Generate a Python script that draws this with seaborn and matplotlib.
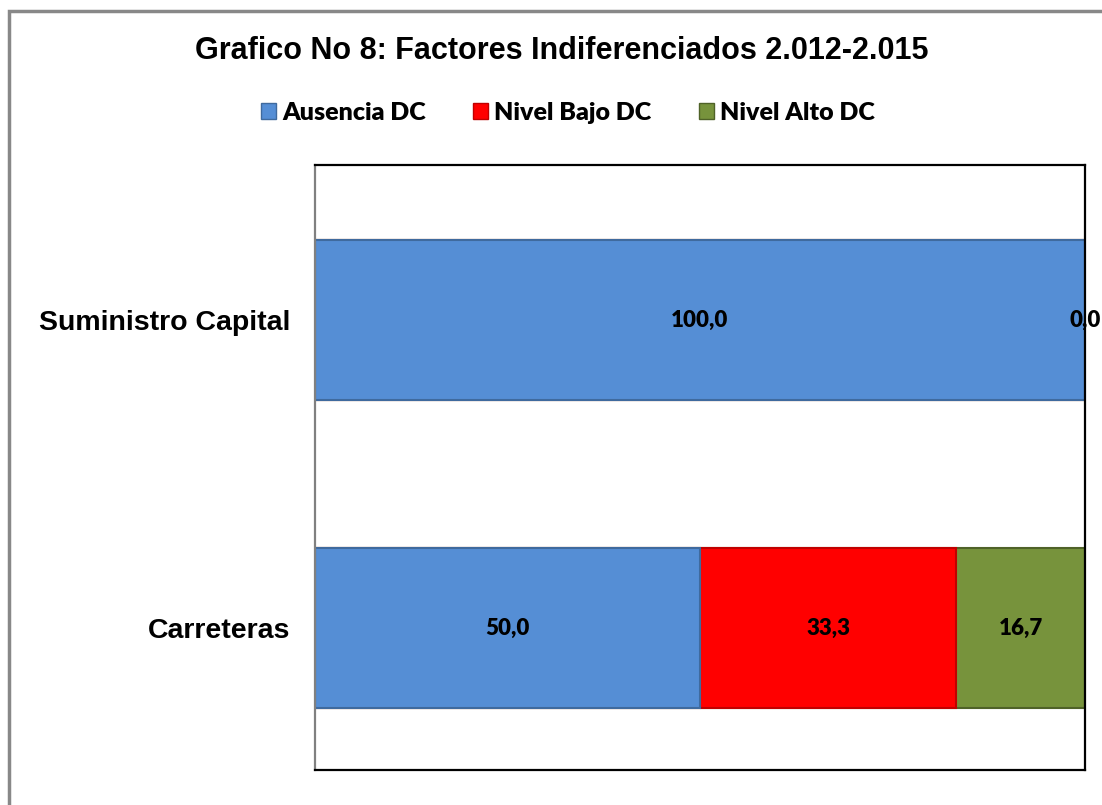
import pandas as pd
import numpy as np
import matplotlib
matplotlib.use('Agg')
import matplotlib.pyplot as plt
import matplotlib.patches as mpatches
import seaborn as sns

# datos del grafico
categorias = ['Suministro Capital', 'Carreteras']
ausencia = [100.0, 50.0]
nivel_bajo = [0.0, 33.3]
nivel_alto = [0.0, 16.7]
series = ['Ausencia DC', 'Nivel Bajo DC', 'Nivel Alto DC']
colores = ['#558ED5', '#FF0000', '#77933C']
bordes = ['#3F6A9E', '#C00000', '#4F6228']

sns.set_style('white')
plt.rcParams['font.family'] = ['Liberation Sans', 'DejaVu Sans']
plt.rcParams['text.color'] = 'black'
plt.rcParams['ytick.color'] = 'black'

df = pd.DataFrame({'categoria': categorias, series[0]: ausencia,
                   series[1]: nivel_bajo, series[2]: nivel_alto})
acum = df[series].cumsum(axis=1)

fig = plt.figure(figsize=(11.02, 8.05), dpi=100)
ax = fig.add_axes([315 / 1102, 1 - 770 / 805, 770 / 1102, 605 / 805])

# barras apiladas: se dibuja el acumulado de mayor a menor
for i in reversed(range(len(series))):
    sns.barplot(x=acum[series[i]], y=df['categoria'], orient='h', color=colores[i],
                edgecolor=bordes[i], linewidth=1.5, width=0.52, saturation=1, ax=ax)

# etiquetas de datos
vistos = set()
for j, cat in enumerate(categorias):
    izq = 0
    for i, s in enumerate(series):
        v = df.loc[j, s]
        xc = izq + v / 2
        if (j, round(xc, 3)) not in vistos:
            vistos.add((j, round(xc, 3)))
            ax.text(xc, j, f'{v:.1f}'.replace('.', ','), ha='center', va='center',
                    fontsize=16, fontweight='heavy', family=['Lato', 'DejaVu Sans'],
                    color='black', clip_on=False)
        izq += v

ax.set_xlim(0, 100)
ax.set_ylim(1.461, -0.503)
ax.set_xticks([])
ax.set_xlabel('')
ax.set_ylabel('')
ax.tick_params(axis='y', length=0, pad=18)
for lab in ax.get_yticklabels():
    lab.set_fontsize(20.5)
    lab.set_fontweight('bold')
    lab.set_color('black')
for lado, sp in ax.spines.items():
    sp.set_visible(True)
    sp.set_linewidth(1.6)
    sp.set_color('black')
ax.spines['left'].set_color('#808080')

fig.text(562 / 1102, 1 - 51 / 805, 'Grafico No 8: Factores Indiferenciados 2.012-2.015',
         ha='center', va='center', fontsize=22, fontweight='bold', color='black')

handles = [mpatches.Patch(facecolor=colores[i], edgecolor=bordes[i], label=series[i])
           for i in range(len(series))]
fig.legend(handles=handles, loc='center', bbox_to_anchor=(568 / 1102, 1 - 113 / 805),
           ncol=3, frameon=False, handlelength=0.6, handleheight=0.6, handletextpad=0.25,
           columnspacing=1.9, prop={'family': ['Lato', 'DejaVu Sans'], 'weight': 'heavy', 'size': 18})

# marco exterior del grafico
fig.patches.append(mpatches.Rectangle((9 / 1102, -0.05), 1.1, 1.05 - 11 / 805,
                                      transform=fig.transFigure, fill=False,
                                      edgecolor='#888888', linewidth=2.5))

fig.savefig('out.png', dpi=100)
